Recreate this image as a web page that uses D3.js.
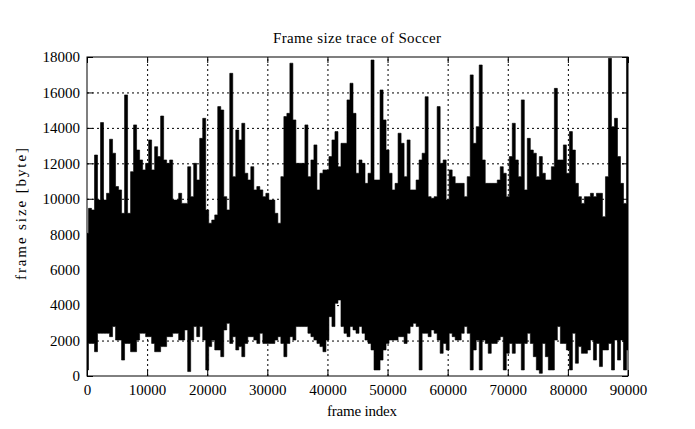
<!DOCTYPE html>
<html><head><meta charset="utf-8">
<script src="https://cdn.jsdelivr.net/npm/d3@7"></script>
<style>
body{margin:0;background:#fff;}
svg{display:block;}
text{font-family:"Liberation Serif","Times New Roman",serif;fill:#000;}
</style></head>
<body>
<script>
// Frame index step between samples (frames)
const frameStep = 500;
// Upper envelope of the frame-size trace (bytes), one value per 500 frames
const highValues = [8050,9460,9370,12470,9930,14300,9930,10310,13360,12570,10690,10500,9180,15860,9180,11530,14170,12750,12190,11630,
12000,13320,11630,12940,12380,14670,12190,12000,12190,9930,9930,10310,9740,9740,11810,10120,12000,11060,13410,14540,
9370,8620,8800,9090,15200,15010,10120,9370,17080,11250,13880,13320,14260,11440,11060,11810,10500,10690,10500,10120,
10310,9930,9930,9180,8620,11250,14640,14820,17650,14450,12000,12000,12000,14170,11250,12190,13040,10500,11440,11630,
11630,12380,13320,13790,11810,13130,13130,15580,16520,14820,11440,12190,12000,10870,11440,17830,11060,11060,16140,14450,
12750,11440,10500,10870,13700,13130,11250,13320,10500,10500,11060,12190,12570,15760,10120,10030,10120,15200,12000,12190,
9930,11630,11250,10870,10870,10870,10120,11250,16990,13130,14070,17550,12190,10870,10870,10870,10870,11060,11810,11440,
10120,12380,14260,12190,11250,15580,10500,13410,12750,12570,11250,12380,11440,11060,11060,11810,16230,12190,12190,13040,
11440,13790,12750,10870,10120,9740,10120,10120,10310,10120,10310,10310,8990,11250,17930,14070,14540,12380,10870,9740,18000];
// Lower envelope of the frame-size trace (bytes), one value per 500 frames
const lowValues = [340,1840,1840,1370,2410,2410,2410,2410,2220,2790,2030,2030,900,1840,1840,1370,1370,2030,2410,2410,
2220,2220,1840,1370,1370,1660,1660,2220,2220,2410,2410,2030,2030,2600,250,2030,2790,2220,2790,2030,
340,1660,2030,1470,1470,1090,2600,2970,1840,2220,1470,1660,1090,1840,2220,2220,2030,1840,2410,1840,
1840,1840,1840,2030,2220,1840,1090,1840,2220,2030,2790,2790,2790,2790,2410,2220,2030,1840,1660,1370,
2030,3350,2790,4100,4290,2790,2410,2220,2790,2600,2410,2790,2410,2030,1840,1470,340,340,900,1470,
1840,2030,2030,2030,2220,2220,1840,2410,2790,2970,2790,340,2410,2410,2220,2600,2410,2030,1280,1840,
1470,2410,2220,2030,2030,2410,2790,2410,340,1470,2030,340,2030,1840,1280,1840,1840,2030,2220,340,
1280,1840,1280,1840,1840,340,1840,2410,1840,1090,340,150,1840,1090,340,340,2030,2790,1840,1840,
1470,340,2410,720,1660,1280,1280,1470,2030,900,1840,530,1470,1470,1840,340,2030,900,2030,340,1470];
const xTicks = [0,10000,20000,30000,40000,50000,60000,70000,80000,90000];
const yTicks = [0,2000,4000,6000,8000,10000,12000,14000,16000,18000];
const titleText = "Frame size trace of Soccer";
const xLabel = "frame index";
const yLabel = "frame size [byte]";

const W = 695, H = 429;
const m = {left:87, top:57, right:67, bottom:53};
const iw = W - m.left - m.right, ih = H - m.top - m.bottom;

const data = highValues.map((h,i)=>({f:i*frameStep, hi:h, lo:lowValues[i]}));

const x = d3.scaleLinear().domain([0,90000]).range([0,iw]);
const y = d3.scaleLinear().domain([0,18000]).range([ih,0]);

const svg = d3.select("body").append("svg").attr("width",W).attr("height",H);
svg.append("defs").append("clipPath").attr("id","clip")
  .append("rect").attr("width",iw).attr("height",ih);
const g = svg.append("g").attr("transform",`translate(${m.left},${m.top})`);

// grid
g.append("g").attr("class","grid").attr("transform",`translate(0,${ih})`)
  .call(d3.axisBottom(x).tickValues(xTicks.slice(1,-1)).tickSize(-ih).tickFormat(""))
  .call(s=>s.select(".domain").remove());
g.append("g").attr("class","grid")
  .call(d3.axisLeft(y).tickValues(yTicks.slice(1,-1)).tickSize(-iw).tickFormat(""))
  .call(s=>s.select(".domain").remove());
g.selectAll(".grid line").attr("stroke","#000").attr("stroke-width",1).attr("stroke-dasharray","2,3");

// trace envelope
const area = d3.area().curve(d3.curveStep)
  .x(d=>x(d.f)).y0(d=>y(d.lo)).y1(d=>y(d.hi));
g.append("path").datum(data).attr("clip-path","url(#clip)")
  .attr("d",area).attr("fill","#000").attr("stroke","#000").attr("stroke-width",0.6);

// axes with inward ticks
const tk = 6;
g.append("g").attr("class","ax").attr("transform",`translate(0,${ih})`)
  .call(d3.axisBottom(x).tickValues(xTicks).tickSizeInner(-tk).tickSizeOuter(0).tickPadding(8).tickFormat(d3.format("d")));
g.append("g").attr("class","ax")
  .call(d3.axisLeft(y).tickValues(yTicks).tickSizeInner(-tk).tickSizeOuter(0).tickPadding(7).tickFormat(d3.format("d")));
g.append("g").call(d3.axisTop(x).tickValues(xTicks).tickSizeInner(-tk).tickSizeOuter(0).tickFormat(""));
g.append("g").attr("transform",`translate(${iw},0)`)
  .call(d3.axisRight(y).tickValues(yTicks).tickSizeInner(-tk).tickSizeOuter(0).tickFormat(""));
g.selectAll(".domain").remove();
g.selectAll(".ax .tick text").style("font-size","15px").style("font-family","'Liberation Serif',serif");
g.append("rect").attr("width",iw).attr("height",ih).attr("fill","none").attr("stroke","#000").attr("stroke-width",1);

svg.append("text").attr("x",357).attr("y",43).attr("text-anchor","middle").style("font-size","15px")
  .attr("textLength",168).attr("lengthAdjust","spacing").text(titleText);
svg.append("text").attr("x",362).attr("y",416).attr("text-anchor","middle").style("font-size","15px")
  .attr("textLength",70).attr("lengthAdjust","spacing").text(xLabel);
svg.append("text").attr("transform","translate(26,214) rotate(-90)").attr("text-anchor","middle").style("font-size","15px")
  .attr("textLength",132).attr("lengthAdjust","spacing").text(yLabel);
</script>
</body></html>
